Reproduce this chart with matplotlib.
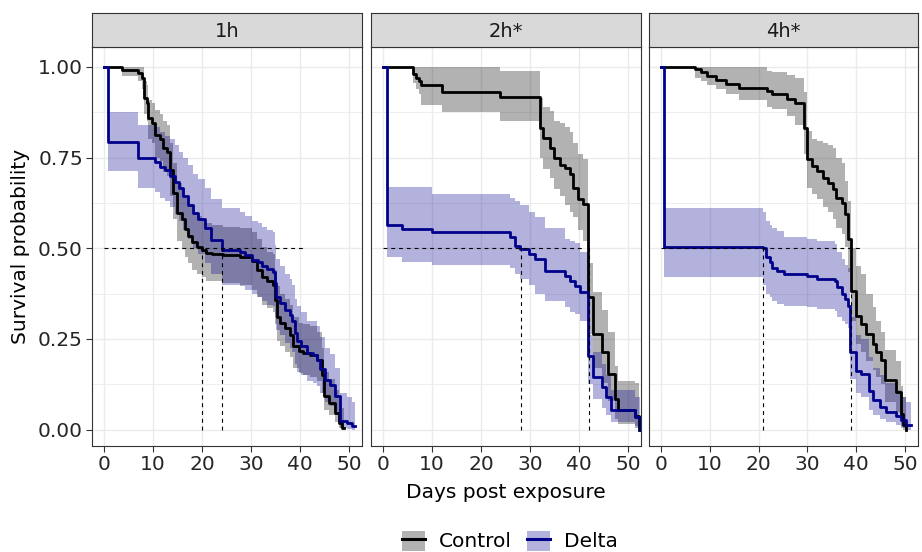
import matplotlib.pyplot as plt
from matplotlib.lines import Line2D
from matplotlib.patches import Patch

# panel titles and groups
panels = ["1h", "2h*", "4h*"]
groups = ["Control", "Delta"]

# 1h - Control
c1_t = [0, 3.6, 6.9, 7.7, 8.2, 8.7, 9.05, 9.7, 10.4, 11.4, 12.1, 12.8, 13.5, 14.1, 14.8, 15.9, 16.5, 17.2, 17.9, 18.9,
        19.9, 20.9, 22.0, 24.3, 27.8, 30.1, 31.2, 32.2, 33.2, 34.5, 34.9, 35.4, 35.9, 36.9, 37.9, 38.6, 39.7, 40.7,
        42.0, 43.4, 44.4, 44.8, 45.9, 47.2, 47.9, 48.6, 48.9]
c1_s = [1.0, .992, .982, .969, .914, .90, .858, .845, .812, .80, .776, .765, .716, .652, .597, .58, .552, .535, .518, .505,
        .496, .487, .484, .482, .476, .464, .441, .422, .409, .40, .358, .312, .294, .28, .262, .23, .216, .212,
        .207, .193, .15, .092, .074, .046, .018, .004, .004]
c1_lo = [1.0, .975, .96, .94, .87, .85, .80, .79, .75, .74, .71, .70, .645, .58, .52, .50, .475, .46, .44, .43,
         .42, .41, .41, .405, .40, .385, .365, .345, .335, .325, .29, .245, .23, .215, .20, .17, .155, .15,
         .145, .135, .10, .055, .04, .02, .005, 0, 0]
c1_hi = [1.0, 1.0, 1.0, 1.0, .96, .95, .91, .90, .88, .87, .85, .84, .79, .735, .68, .665, .64, .62, .60, .59,
         .58, .57, .565, .56, .555, .545, .525, .505, .49, .485, .44, .395, .375, .36, .345, .31, .295, .29,
         .285, .27, .225, .16, .14, .11, .08, .06, .06]

# 1h - Delta
d1_t = [0, 0.9, 6.9, 10.4, 11.4, 12.5, 13.5, 14.5, 15.3, 16.2, 17.2, 18.2, 19.2, 20.6, 21.9, 24.0, 27.8, 28.8, 30.1,
        31.5, 32.2, 33.2, 34.5, 34.9, 35.2, 35.9, 36.9, 37.9, 38.3, 39.0, 39.3, 40.3, 41.4, 42.7, 43.4, 44.1, 45.1,
        46.1, 47.1, 48.2, 49.5, 50.6, 51.2]
d1_s = [1.0, .794, .748, .739, .725, .716, .70, .684, .665, .643, .62, .597, .58, .555, .523, .496, .491, .482, .468,
        .462, .452, .444, .436, .404, .367, .349, .331, .317, .30, .266, .245, .231, .211, .207, .193, .166, .138,
        .124, .092, .023, .018, .009, .009]
d1_lo = [1.0, .713, .666, .655, .64, .63, .615, .595, .575, .55, .525, .50, .485, .46, .43, .40, .395, .385, .375,
         .365, .355, .345, .34, .31, .275, .26, .24, .225, .215, .18, .16, .15, .135, .13, .12, .10, .075,
         .065, .04, .005, .002, 0, 0]
d1_hi = [1.0, .877, .84, .835, .82, .81, .80, .785, .765, .75, .73, .705, .69, .665, .635, .61, .60, .59, .575,
         .57, .56, .55, .545, .51, .47, .45, .43, .415, .40, .36, .34, .325, .30, .30, .285, .255, .225,
         .21, .17, .10, .09, .075, .075]

# 2h - Control
c2_t = [0, 6.1, 6.8, 7.3, 7.8, 12.1, 23.9, 32.0, 32.7, 34.1, 34.8, 36.1, 37.1, 38.1, 38.8, 39.8, 40.9, 41.9, 42.9,
        44.6, 45.9, 47.3, 48.0, 51.4, 52.3]
c2_s = [1.0, .98, .97, .96, .95, .931, .917, .832, .805, .777, .75, .731, .722, .704, .667, .635, .621, .365, .264,
        .214, .154, .085, .053, .039, 0.0]
c2_lo = [1.0, .955, .94, .925, .896, .876, .85, .75, .72, .695, .663, .645, .62, .60, .585, .55, .52, .265, .17,
         .13, .08, .03, .015, .005, 0.0]
c2_hi = [1.0, 1.0, 1.0, 1.0, 1.0, 1.0, .99, .915, .89, .878, .85, .845, .835, .82, .79, .76, .745, .46, .38,
         .33, .27, .175, .135, .13, 0.0]

# 2h - Delta
d2_t = [0, 0.9, 3.9, 10.0, 25.9, 27.0, 28.0, 29.7, 31.0, 33.0, 37.1, 38.1, 39.2, 40.2, 41.9, 42.9, 44.6, 45.6, 46.6,
        51.4, 52.4]
d2_s = [1.0, .564, .553, .544, .530, .507, .498, .484, .470, .438, .424, .411, .397, .379, .204, .145, .117, .090, .053,
        .035, 0.0]
d2_lo = [1.0, .475, .461, .455, .445, .429, .415, .40, .374, .356, .337, .325, .319, .30, .125, .085, .06, .04, .02,
         .01, 0.0]
d2_hi = [1.0, .67, .67, .649, .64, .63, .62, .60, .585, .557, .525, .52, .515, .49, .26, .215, .18, .15, .11,
         .09, 0.0]

# 4h - Control
c3_t = [0, 7.0, 8.3, 9.5, 11.2, 13.3, 16.0, 21.7, 22.8, 25.8, 27.5, 29.2, 29.9, 30.9, 31.9, 33.2, 34.3, 35.3, 35.9,
        37.0, 37.7, 38.3, 39.0, 40.0, 41.0, 42.1, 43.4, 44.1, 45.1, 45.8, 48.2, 49.2, 49.5, 50.2]
c3_s = [1.0, .993, .985, .975, .965, .953, .942, .933, .925, .913, .901, .832, .745, .727, .713, .695, .681, .663, .64,
        .626, .594, .525, .383, .314, .291, .264, .237, .214, .191, .136, .104, .044, .012, 0.0]
c3_lo = [1.0, .97, .96, .95, .94, .925, .91, .89, .885, .865, .84, .76, .667, .65, .635, .615, .60, .58, .555,
         .54, .505, .435, .30, .235, .215, .19, .165, .145, .125, .075, .05, .01, 0.0, 0.0]
c3_hi = [1.0, 1.0, 1.0, 1.0, 1.0, 1.0, 1.0, .99, .985, .979, .97, .93, .823, .80, .795, .79, .785, .777, .75,
         .735, .686, .63, .50, .45, .43, .374, .337, .30, .27, .22, .19, .12, .09, 0.0]

# 4h - Delta
d3_t = [0, 0.7, 21.0, 21.6, 22.3, 22.7, 23.7, 25.1, 29.9, 31.9, 35.6, 36.0, 37.0, 37.7, 38.3, 38.7, 40.0, 41.0, 42.7,
        43.4, 44.8, 46.1, 48.2, 49.2, 50.2, 51.2]
d3_s = [1.0, .504, .502, .475, .461, .447, .438, .429, .424, .415, .411, .392, .374, .36, .342, .214, .163, .154, .108,
        .081, .062, .049, .039, .026, .012, .012]
d3_lo = [1.0, .42, .40, .374, .365, .355, .346, .34, .337, .333, .328, .31, .30, .29, .28, .14, .10, .09, .055,
         .04, .03, .02, .012, .005, 0, 0]
d3_hi = [1.0, .612, .60, .576, .565, .555, .548, .53, .525, .52, .511, .49, .47, .455, .447, .31, .26, .25, .20,
         .17, .15, .13, .11, .09, .075, .075]

# median survival times (days) and where the 0.5 reference line stops
medians = [[19.9, 24.1], [28.1, 42.0], [20.9, 38.9]]
hline_end = [41.2, 41.2, 41.0]

data = [
    [(c1_t, c1_s, c1_lo, c1_hi), (d1_t, d1_s, d1_lo, d1_hi)],
    [(c2_t, c2_s, c2_lo, c2_hi), (d2_t, d2_s, d2_lo, d2_hi)],
    [(c3_t, c3_s, c3_lo, c3_hi), (d3_t, d3_s, d3_lo, d3_hi)],
]
colores = ["#000000", "#00008B"]

W, H = 922, 552
fig = plt.figure(figsize=(W / 100, H / 100), dpi=100)


def caja(l, r, t, b):
    return [l / W, 1 - b / H, (r - l) / W, (b - t) / H]


izq = [92, 371, 649]
der = [362, 641, 918]
arriba, abajo, tira = 47, 446, 13
tick_col = "#262626"

for i, nombre in enumerate(panels):
    ax = fig.add_axes(caja(izq[i], der[i], arriba, abajo))
    for (t, s, lo, hi), col in zip(data[i], colores):
        ax.fill_between(t, lo, hi, step="post", color=col, alpha=0.3, lw=0)
    for (t, s, lo, hi), col in zip(data[i], colores):
        ax.step(t, s, where="post", color=col, lw=2.0)

    ax.plot([0, hline_end[i]], [0.5, 0.5], color="black", lw=0.8, ls=(0, (3.5, 3.5)))
    for m in medians[i]:
        ax.plot([m, m], [0, 0.5], color="black", lw=0.8, ls=(0, (3.5, 3.5)))

    ax.set_xlim(-2.45, 52.65)
    ax.set_ylim(-0.045, 1.055)
    ax.set_xticks(range(0, 51, 10))
    ax.set_yticks([0, 0.25, 0.5, 0.75, 1.0])
    ax.set_yticks([0.125, 0.375, 0.625, 0.875], minor=True)
    ax.set_yticklabels(["0.00", "0.25", "0.50", "0.75", "1.00"])
    ax.grid(which="major", color="#EBEBEB", lw=1.0)
    ax.grid(which="minor", axis="y", color="#EBEBEB", lw=0.6)
    ax.set_axisbelow(True)
    ax.tick_params(which="minor", length=0)
    ax.tick_params(which="major", labelsize=14.5, labelcolor=tick_col, color="#333333",
                   length=4, width=0.8, pad=2.5)
    if i > 0:
        ax.tick_params(left=False, labelleft=False)
    for sp in ax.spines.values():
        sp.set_color("#333333")
        sp.set_linewidth(0.8)

    # strip del facet
    sx = fig.add_axes(caja(izq[i], der[i], tira, arriba))
    sx.set_facecolor("#D9D9D9")
    sx.set_xticks([])
    sx.set_yticks([])
    for sp in sx.spines.values():
        sp.set_color("#333333")
        sp.set_linewidth(0.8)
    sx.text(0.5, 0.47, nombre, ha="center", va="center", fontsize=14, color="#1A1A1A",
            transform=sx.transAxes)

fig.text(20 / W, 1 - 246 / H, "Survival probability", rotation=90, ha="center", va="center",
         fontsize=14.5, color="black")
fig.text(506 / W, 1 - 492 / H, "Days post exposure", ha="center", va="center",
         fontsize=14.5, color="black")

handles = [(Patch(facecolor=c, alpha=0.3, lw=0), Line2D([], [], color=c, lw=2.2)) for c in colores]
fig.legend(handles, groups, loc="center", bbox_to_anchor=(510 / W, 1 - 541 / H), ncol=2,
           frameon=False, fontsize=14.5, handlelength=1.15, handleheight=1.15,
           handletextpad=0.7, columnspacing=0.75, borderaxespad=0, borderpad=0)

fig.savefig("out.png", dpi=100)
